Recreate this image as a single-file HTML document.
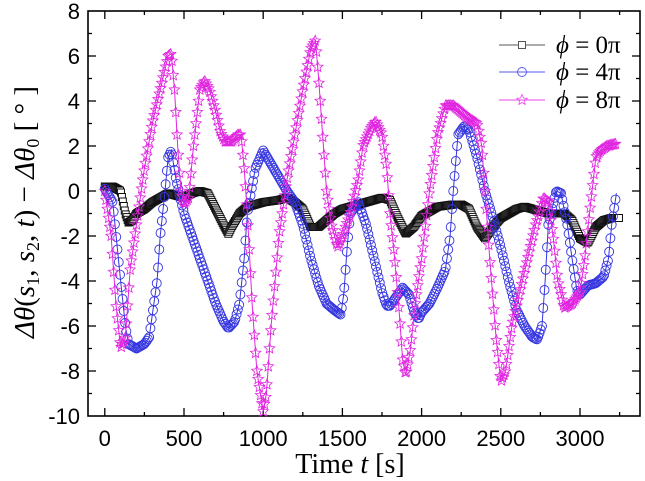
<!DOCTYPE html>
<html><head><meta charset="utf-8"><style>
html,body{margin:0;padding:0;background:#fff;}
svg{display:block;}
</style></head><body>
<svg id="chart" width="645" height="481" xmlns="http://www.w3.org/2000/svg"></svg>
<script>
const t0 = [0,50,100,130,150,175,200,250,300,350,400,450,500,550,600,650,700,750,780,800,850,900,950,1000,1100,1150,1200,1250,1300,1350,1400,1450,1500,1550,1600,1700,1750,1800,1850,1900,1950,2000,2050,2100,2200,2250,2300,2350,2400,2450,2500,2550,2600,2650,2700,2750,2800,2900,2950,3000,3050,3100,3150,3200,3250];
const v0 = [0.2,0.2,0,-1,-1.4,-1.3,-1,-0.8,-0.5,-0.3,-0.1,-0.2,-0.3,-0.1,0,-0.1,-0.8,-1.5,-1.9,-1.6,-1,-0.7,-0.6,-0.5,-0.4,-0.3,-0.5,-0.8,-1.6,-1.6,-1.3,-1,-0.8,-0.7,-0.6,-0.4,-0.3,-0.4,-1.2,-1.9,-1.6,-1.1,-0.9,-0.7,-0.6,-0.6,-0.8,-1.6,-2.1,-1.6,-1.2,-1,-0.8,-0.7,-0.8,-0.9,-1,-1,-1.3,-2.1,-2.3,-1.6,-1.3,-1.2,-1.2];
const t4 = [0,50,100,130,150,200,250,280,300,330,350,380,400,420,450,500,550,600,650,700,750,780,820,850,880,900,950,1000,1050,1100,1150,1200,1250,1300,1350,1400,1450,1490,1510,1530,1550,1600,1650,1700,1750,1780,1800,1850,1880,1920,1950,1980,2000,2050,2100,2150,2180,2200,2230,2270,2300,2350,2400,2450,2500,2550,2600,2650,2700,2730,2760,2780,2800,2850,2880,2920,2950,2980,3000,3050,3100,3150,3180,3200,3230];
const v4 = [0.1,-0.5,-4,-6,-6.8,-7,-6.8,-6.5,-5.5,-4,-2,0,1.5,1.8,0.5,-1,-2,-3,-4,-5,-5.8,-6.1,-5.8,-5,-3,-1,1,1.8,1.2,0.6,0,-0.5,-1.5,-3,-4.2,-5,-5.3,-5.5,-4.5,-2.5,-1,-0.5,-1.5,-3,-4.5,-5.1,-5.1,-4.6,-4.3,-4.6,-5.3,-5.7,-5.4,-5,-4.3,-3.5,-2,0,2.5,2.9,2.7,1.5,0,-1.2,-2.5,-4,-5.3,-6,-6.5,-6.6,-6,-4,-1.5,0,-0.1,-1.5,-3,-4.4,-4.6,-4.2,-4.1,-3.8,-3,-1.5,-0.1];
const t8 = [0,40,70,100,130,160,200,250,300,350,400,420,440,460,480,500,530,560,600,630,660,700,730,760,800,840,860,880,900,930,960,1000,1020,1050,1100,1150,1200,1250,1300,1330,1350,1380,1400,1430,1470,1500,1550,1600,1630,1680,1710,1750,1780,1800,1830,1860,1880,1900,1930,1960,2000,2050,2100,2150,2200,2250,2300,2350,2380,2400,2430,2470,2500,2530,2570,2620,2670,2720,2770,2800,2830,2860,2900,2950,3000,3030,3060,3100,3130,3170,3230];
const v8 = [0,-2,-5,-7,-6.5,-3.5,-1.5,1,3,4.5,6,6.1,4.5,2,0,-0.6,-0.3,2,4.5,4.9,4.5,3.5,2.6,2.2,2.2,2.5,2.5,1,-1,-5,-8,-9.8,-9,-6,-2,0.5,2.5,4.5,6.3,6.7,5,2,0,-1.5,-2.5,-2,-1,0.5,2,2.8,3.1,2.5,1,-1,-3,-5.5,-7.5,-8.2,-7,-5,-3,0,2.5,3.8,3.8,3.5,3.2,3,2,0,-3,-6.5,-8.5,-8,-6,-4.5,-3,-1.5,-0.3,-0.5,-2,-4,-5.2,-5,-4.5,-3,-1,1.5,1.8,2,2.1];
const xTicks = [0,500,1000,1500,2000,2500,3000];
const yTicks = [-10,-8,-6,-4,-2,0,2,4,6,8];

const NS='http://www.w3.org/2000/svg';
const svg=document.getElementById('chart');
const L=88,R=640,T=11,B=416;
function X(t){return 104.8+t*79.2/500;}
function Y(v){return 191-v*22.5;}
function mk(tag,attrs,parent){const e=document.createElementNS(NS,tag);for(const k in attrs)e.setAttribute(k,attrs[k]);(parent||svg).appendChild(e);return e;}

const frame=mk('rect',{x:L,y:T,width:R-L,height:B-T,fill:'none',stroke:'#000','stroke-width':1.6});



const tg=mk('g',{stroke:'#000','stroke-width':1.3});


for(let t=-250;t<=3500;t+=250){const x=X(t);if(x<=L+1||x>=R-1)continue;const len=(t%500===0)?8:4;
 mk('line',{x1:x,y1:B,x2:x,y2:B-len},tg);mk('line',{x1:x,y1:T,x2:x,y2:T+len},tg);}
for(let v=-10;v<=8;v+=1){const y=Y(v);if(y<T+1||y>B-1)continue;const len=(v%2===0)?8:4;
 mk('line',{x1:L,y1:y,x2:L+len,y2:y},tg);mk('line',{x1:R,y1:y,x2:R-len,y2:y},tg);}

xTicks.forEach(t=>{const e=mk('text',{x:X(t),y:446,'text-anchor':'middle','font-family':'Liberation Sans, sans-serif','font-size':22,fill:'#000'});e.textContent=t;
 
 });
yTicks.forEach(v=>{const e=mk('text',{x:80,y:Y(v)+8,'text-anchor':'end','font-family':'Liberation Sans, sans-serif','font-size':22,fill:'#000'});e.textContent=v;
 
 });

const xt=mk('text',{x:350,y:473,'text-anchor':'middle','font-family':'Liberation Serif, serif','font-size':28,fill:'#000'});
xt.innerHTML='Time <tspan font-style="italic">t</tspan> [s]';


const yt=mk('text',{x:0,y:0,'text-anchor':'middle','font-family':'Liberation Serif, serif','font-size':29,fill:'#000',transform:'translate(34,212) rotate(-90)'});
yt.innerHTML='<tspan font-style="italic">Δθ</tspan>(<tspan font-style="italic">s</tspan><tspan font-size="18" dy="5">1</tspan><tspan dy="-5">, </tspan><tspan font-style="italic">s</tspan><tspan font-size="18" dy="5">2</tspan><tspan dy="-5">, </tspan><tspan font-style="italic">t</tspan>) − <tspan font-style="italic">Δθ</tspan><tspan font-size="18" dy="5">0</tspan><tspan dy="-5"> [ °  ]</tspan>';



function starPath(cx,cy,r){let d='';for(let i=0;i<10;i++){const a=-Math.PI/2+i*Math.PI/5;const rr=i%2?r*0.45:r;d+=(i?'L':'M')+(cx+rr*Math.cos(a)).toFixed(1)+','+(cy+rr*Math.sin(a)).toFixed(1);}return d+'Z';}
function marker(type,x,y,color,g){
 if(type==='sq')return mk('rect',{x:x-3.5,y:y-3.5,width:7,height:7,fill:'#fff',stroke:color,'stroke-width':1},g);
 if(type==='ci')return mk('circle',{cx:x,cy:y,r:4.5,fill:'none',stroke:color,'stroke-width':0.9},g);
 return mk('path',{d:starPath(x,y,5.5),fill:'none',stroke:color,'stroke-width':0.8},g);
}
function series(ts,vs,color,type,name,dt){
 const g=mk('g',{});
 
 
 const pts=ts.map((t,i)=>[X(t),Y(vs[i])]);
 mk('polyline',{points:pts.map(p=>p.join(',')).join(' '),fill:'none',stroke:color,'stroke-width':1},g);
 let i=0;
 for(let t=ts[0];t<=ts[ts.length-1];t+=dt){
  while(i<ts.length-2&&t>ts[i+1])i++;
  const f=(t-ts[i])/(ts[i+1]-ts[i]);
  marker(type,X(t),Y(vs[i]+(vs[i+1]-vs[i])*f),color,g);
 }
}
series(t0,v0,'#111','sq','series-phi-0pi',6);
series(t4,v4,'#3535e0','ci','series-phi-4pi',8);
series(t8,v8,'#e025e0','st','series-phi-8pi',8);

const lg=mk('g',{});


const leg=[['#555','sq','0π',45],['#5555ee','ci','4π',72],['#ee44ee','st','8π',100]];
leg.forEach(([c,ty,lab,y])=>{
 const eg=mk('g',{},lg);
 
 
 mk('line',{x1:499,y1:y,x2:545,y2:y,stroke:c,'stroke-width':1},eg);
 marker(ty,522,y,c,eg);
 const tx=mk('text',{x:556,y:y+8,'font-family':'Liberation Serif, serif','font-size':25,fill:'#000'},eg);
 tx.innerHTML='<tspan font-style="italic">ϕ</tspan> = '+lab;
});
</script>
</body></html>
